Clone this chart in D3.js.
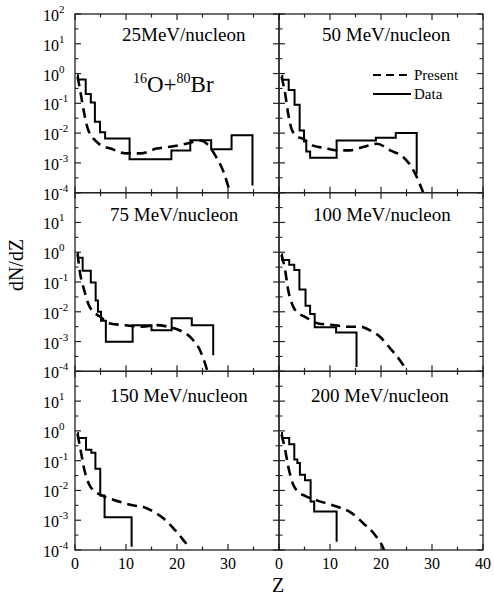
<!DOCTYPE html>
<html><head><meta charset="utf-8">
<script src="https://cdn.jsdelivr.net/npm/d3@7"></script>
<style>
body{margin:0;background:#fff}
svg{display:block}
text{font-family:"Liberation Serif","Times New Roman",serif;fill:#000}
</style>
</head><body>
<svg id="c" width="494" height="598"></svg>
<script>
// ---------- DATA ----------
const panelTitles = ["25MeV/nucleon", "50 MeV/nucleon", "75 MeV/nucleon", "100 MeV/nucleon", "150 MeV/nucleon", "200 MeV/nucleon"];
const xTickValues = [0, 5, 10, 15, 20, 25, 30, 35, 40];
const xTickLabelsLeft = [0, 10, 20, 30];
const xTickLabelsRight = [0, 10, 20, 30, 40];
const yDecadeExponents = [-4, -3, -2, -1, 0, 1, 2];
const legendLabels = ["Present", "Data"];

// Data (solid, step histogram): bin left edges Z and dN/dZ; last entry = final drop
const data25Z = [0.4, 0.6, 2.1, 3.1, 3.9, 4.9, 5.9, 10.7, 18.9, 22.6, 26.7, 30.7, 34.8];
const data25V = [0.871, 0.631, 0.204, 0.107, 0.024, 0.0107, 0.0066, 0.00132, 0.00263, 0.00575, 0.00288, 0.0085, 0.000174];
const data50Z = [0.5, 0.65, 1.9, 3.05, 4.05, 4.9, 5.35, 6.1, 11.3, 19.0, 22.9, 27.0];
const data50V = [0.851, 0.617, 0.282, 0.0891, 0.0123, 0.00525, 0.0024, 0.00148, 0.00562, 0.00692, 0.01, 0.000427];
const data75Z = [0.45, 0.6, 1.5, 3.1, 4.05, 4.5, 5.1, 6.05, 11.3, 15.0, 18.95, 22.9, 27.1];
const data75V = [0.933, 0.646, 0.24, 0.0955, 0.024, 0.01, 0.005, 0.00098, 0.00355, 0.0024, 0.00603, 0.00355, 0.000347];
const data100Z = [0.5, 0.6, 2.0, 3.0, 4.0, 5.2, 6.1, 7.0, 11.2, 15.2];
const data100V = [0.851, 0.55, 0.38, 0.251, 0.0562, 0.0158, 0.0085, 0.00302, 0.002, 0.000141];
const data150Z = [0.45, 0.6, 2.16, 3.2, 4.0, 4.95, 5.8, 11.1];
const data150V = [0.851, 0.575, 0.234, 0.186, 0.0537, 0.00676, 0.00126, 0.000129];
const data200Z = [0.4, 0.6, 2.0, 3.0, 3.6, 4.1, 5.1, 6.2, 6.9, 11.3];
const data200V = [0.851, 0.575, 0.355, 0.11, 0.0832, 0.0339, 0.0219, 0.00427, 0.00195, 0.00019];

// Present (dashed, smooth)
const pres25Z = [0.5, 1.0, 1.5, 2.0, 2.5, 3.0, 4.0, 5.0, 7.0, 10.0, 13.0, 16.0, 19.0, 22.0, 24.5, 26.0, 27.5, 29.0, 30.5];
const pres25V = [0.794, 0.282, 0.0891, 0.0316, 0.0141, 0.00891, 0.00562, 0.00398, 0.00302, 0.00209, 0.00209, 0.00302, 0.00355, 0.00447, 0.00562, 0.00417, 0.00178, 0.000562, 0.0000891];
const pres50Z = [0.5, 1.2, 1.8, 2.5, 3.5, 4.8, 6.7, 9.0, 11.3, 13.9, 16.5, 19.2, 21.8, 24.4, 26.4, 28.0, 28.5];
const pres50V = [0.794, 0.214, 0.0447, 0.0132, 0.00794, 0.00631, 0.0038, 0.00316, 0.00263, 0.00263, 0.00339, 0.00437, 0.00263, 0.00155, 0.00055, 0.000132, 0.0000794];
const pres75Z = [0.5, 1.0, 1.8, 2.7, 3.6, 4.8, 6.9, 9.9, 13.2, 15.9, 18.2, 20.5, 22.9, 24.5, 25.8, 26.3];
const pres75V = [0.891, 0.195, 0.0537, 0.017, 0.01, 0.00708, 0.00407, 0.00355, 0.00316, 0.00355, 0.00316, 0.0024, 0.00126, 0.000513, 0.000126, 0.0000631];
const pres100Z = [0.5, 1.2, 1.8, 2.8, 3.8, 5.1, 7.7, 11.0, 13.3, 15.9, 17.8, 19.8, 21.8, 23.7, 24.7, 25.0];
const pres100V = [0.813, 0.251, 0.0537, 0.0148, 0.00891, 0.00676, 0.00407, 0.00355, 0.00316, 0.00316, 0.0024, 0.00145, 0.000589, 0.000234, 0.000123, 0.0000891];
const pres150Z = [0.5, 1.2, 1.8, 2.8, 3.8, 5.0, 7.5, 10.8, 14.05, 17.3, 19.3, 21.2, 21.9, 22.2];
const pres150V = [0.794, 0.182, 0.0525, 0.0155, 0.00955, 0.00708, 0.0049, 0.00331, 0.00251, 0.00117, 0.000537, 0.000219, 0.000148, 0.0001];
const pres200Z = [0.5, 1.2, 1.8, 2.8, 3.8, 5.1, 7.7, 11.3, 14.25, 16.5, 18.8, 20.45, 20.7];
const pres200V = [0.759, 0.234, 0.0646, 0.0155, 0.00891, 0.00661, 0.00447, 0.00288, 0.00174, 0.000794, 0.000324, 0.000115, 0.0000891];

// ---------- BUILD ----------
const zip = (zs, vs) => zs.map((z, i) => ({z, v: vs[i]}));
const panels = [
  {title: panelTitles[0], data: zip(data25Z, data25V), pres: zip(pres25Z, pres25V)},
  {title: panelTitles[1], data: zip(data50Z, data50V), pres: zip(pres50Z, pres50V)},
  {title: panelTitles[2], data: zip(data75Z, data75V), pres: zip(pres75Z, pres75V)},
  {title: panelTitles[3], data: zip(data100Z, data100V), pres: zip(pres100Z, pres100V)},
  {title: panelTitles[4], data: zip(data150Z, data150V), pres: zip(pres150Z, pres150V)},
  {title: panelTitles[5], data: zip(data200Z, data200V), pres: zip(pres200Z, pres200V)}
];

// ---------- LAYOUT ----------
const svg = d3.select("#c");
const plotL = 75, plotR = 483, plotT = 14, plotB = 550;
const colW = (plotR - plotL) / 2, rowH = (plotB - plotT) / 3;
const titleX = [122, 322, 110, 313, 110, 311];
const titleBase = [41, 221, 402];
const majorLen = 6, minorLen = 3.5;

panels.forEach((p, i) => {
  const col = i % 2, row = Math.floor(i / 2);
  const x0 = plotL + col * colW, y0 = plotT + row * rowH;
  const x = d3.scaleLinear().domain([0, 40]).range([x0, x0 + colW]);
  const y = d3.scaleLog().domain([1e-4, 1e2]).range([y0 + rowH, y0]);
  const g = svg.append("g");

  const clipId = "clip" + i;
  svg.append("clipPath").attr("id", clipId).append("rect")
    .attr("x", x0).attr("y", y0).attr("width", colW).attr("height", rowH);

  const line = d3.line().x(d => x(d.z)).y(d => y(d.v));
  g.append("path").datum(p.pres)
    .attr("clip-path", `url(#${clipId})`)
    .attr("d", line.curve(d3.curveMonotoneX))
    .attr("fill", "none").attr("stroke", "#000").attr("stroke-width", 2.6)
    .attr("stroke-dasharray", "10,6");
  g.append("path").datum(p.data)
    .attr("clip-path", `url(#${clipId})`)
    .attr("d", d3.line().x(d => x(d.z)).y(d => y(d.v)).curve(d3.curveStepAfter))
    .attr("fill", "none").attr("stroke", "#000").attr("stroke-width", 2);

  // frame
  g.append("rect").attr("x", x0).attr("y", y0).attr("width", colW).attr("height", rowH)
    .attr("fill", "none").attr("stroke", "#222").attr("stroke-width", 1.3);

  // y ticks
  yDecadeExponents.forEach(e => {
    const yy = y(Math.pow(10, e));
    g.append("line").attr("x1", x0).attr("x2", x0 + majorLen).attr("y1", yy).attr("y2", yy).attr("stroke", "#222").attr("stroke-width", 1.2);
    g.append("line").attr("x1", x0 + colW).attr("x2", x0 + colW - majorLen).attr("y1", yy).attr("y2", yy).attr("stroke", "#222").attr("stroke-width", 1.2);
    if (e < 2) {
      const ym = y(Math.pow(10, e + 0.5));
      g.append("line").attr("x1", x0).attr("x2", x0 + minorLen).attr("y1", ym).attr("y2", ym).attr("stroke", "#222").attr("stroke-width", 1.1);
      g.append("line").attr("x1", x0 + colW).attr("x2", x0 + colW - minorLen).attr("y1", ym).attr("y2", ym).attr("stroke", "#222").attr("stroke-width", 1.1);
    }
    if (col === 0 && (e < 2 || row === 0)) {
      const t = svg.append("text").attr("x", 43).attr("y", yy + 7).style("font-size", "16px");
      t.append("tspan").text("10");
      t.append("tspan").text(String(e)).style("font-size", "11px").attr("dy", -8);
    }
  });

  // x ticks
  xTickValues.forEach(v => {
    const xx = x(v), len = (v % 10 === 0) ? majorLen : minorLen;
    g.append("line").attr("x1", xx).attr("x2", xx).attr("y1", y0 + rowH).attr("y2", y0 + rowH - len).attr("stroke", "#222").attr("stroke-width", 1.2);
    g.append("line").attr("x1", xx).attr("x2", xx).attr("y1", y0).attr("y2", y0 + len).attr("stroke", "#222").attr("stroke-width", 1.2);
  });
  if (row === 2) {
    (col === 0 ? xTickLabelsLeft : xTickLabelsRight).forEach(v => {
      svg.append("text").attr("x", x(v)).attr("y", 569).attr("text-anchor", "middle")
        .style("font-size", "16px").text(v);
    });
  }

  // title
  svg.append("text").attr("x", titleX[i]).attr("y", titleBase[row]).style("font-size", "19px").text(p.title);
});

// reaction label
const r = svg.append("text").attr("x", 133).attr("y", 92).style("font-size", "23px");
r.append("tspan").text("16").style("font-size", "14px").attr("dy", -9);
r.append("tspan").text("O+").attr("dy", 9);
r.append("tspan").text("80").style("font-size", "14px").attr("dy", -9);
r.append("tspan").text("Br").attr("dy", 9);

// legend
svg.append("line").attr("x1", 373).attr("x2", 411).attr("y1", 75).attr("y2", 75)
  .attr("stroke", "#000").attr("stroke-width", 2).attr("stroke-dasharray", "8,5");
svg.append("text").attr("x", 414).attr("y", 80).style("font-size", "15px").text(legendLabels[0]);
svg.append("line").attr("x1", 373).attr("x2", 411).attr("y1", 94).attr("y2", 94)
  .attr("stroke", "#000").attr("stroke-width", 2);
svg.append("text").attr("x", 414).attr("y", 99).style("font-size", "15px").text(legendLabels[1]);

// axis titles
svg.append("text").attr("transform", "translate(23,265) rotate(-90)").attr("text-anchor", "middle")
  .style("font-size", "20px").text("dN/dZ");
svg.append("text").attr("x", 278).attr("y", 592).attr("text-anchor", "middle").style("font-size", "20px").text("Z");
</script>
</body></html>
